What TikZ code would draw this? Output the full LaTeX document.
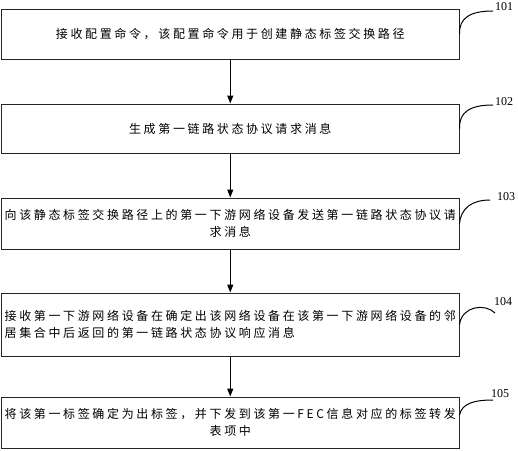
\documentclass[tikz,border=0pt]{standalone}
\usepackage{fontspec}
\setmainfont{Liberation Serif}
\newfontfamily\cjk[LetterSpace=22]{Noto Sans CJK SC}
\usetikzlibrary{arrows.meta}
\begin{document}
\begin{tikzpicture}[x=1pt,y=-1pt,
  box/.style={draw=black!85,line width=1pt,minimum width=457.5pt,minimum height=#1,
    inner sep=0pt,font=\cjk\fontsize{12}{17}\selectfont,align=center},
  lbl/.style={inner sep=0pt,font=\fontsize{12}{12}\selectfont},
  flow/.style={line width=1pt,-{Triangle[length=8pt,width=6pt]}},
  callout/.style={line width=1pt}]
\useasboundingbox (0,0) rectangle (518,450);
\node[box=50pt] (b1) at (230.25,34) {接收配置命令，该配置命令用于创建静态标签交换路径};
\node[box=49pt] (b2) at (230.25,128.5) {生成第一链路状态协议请求消息};
\node[box=51pt] (b3) at (230.25,223.5) {向该静态标签交换路径上的第一下游网络设备发送第一链路状态协议请\\求消息};
\node[box=63pt,align=left] (b4) at (230.25,324.5) {接收第一下游网络设备在确定出该网络设备在该第一下游网络设备的邻\\居集合中后返回的第一链路状态协议响应消息};
\node[box=51pt] (b5) at (230.25,422.5) {将该第一标签确定为出标签，并下发到该第一FEC信息对应的标签转发\\表项中};
\draw[flow] (b1) -- (b2);
\draw[flow] (b2) -- (b3);
\draw[flow] (b3) -- (b4);
\draw[flow] (b4) -- (b5);
\node[lbl] (l1) at (504,7) {101};
\node[lbl] (l2) at (504,102) {102};
\node[lbl] (l3) at (506,197) {103};
\node[lbl] (l4) at (503,302) {104};
\node[lbl] (l5) at (500,394) {105};
\coordinate (e1) at (493,11);
\coordinate (e2) at (493,105);
\coordinate (e3) at (490,200);
\coordinate (e4) at (495,313);
\coordinate (e5) at (493,400);
\draw[callout] (b1.east) .. controls (459,18) and (470,11) .. (e1);
\draw[callout] (b2.east) .. controls (459,112) and (470,105) .. (e2);
\draw[callout] (b3.east) .. controls (461,208) and (472,200) .. (e3);
\draw[callout] (b4.east) .. controls (462,306) and (485,303) .. (e4);
\draw[callout] ([yshift=7.5pt]b5.east) .. controls (462,403) and (475,400) .. (e5);
\end{tikzpicture}
\end{document}
